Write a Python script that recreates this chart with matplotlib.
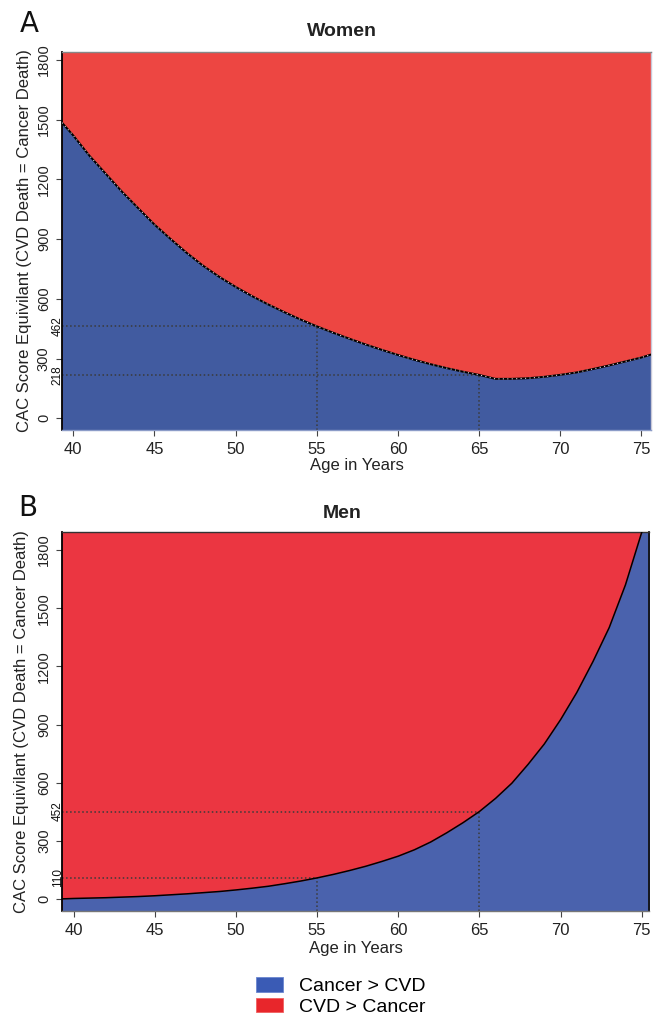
import numpy as np
import matplotlib
matplotlib.use("Agg")
import matplotlib.pyplot as plt
from matplotlib.patches import Patch

plt.rcParams['font.family'] = ['Liberation Sans', 'DejaVu Sans']

# CAC score at which CVD death risk equals cancer death risk
women_age = [39.3, 40, 41, 42, 43, 44, 45, 46, 47, 48, 49, 50, 51, 52, 53, 54, 55,
             56, 57, 58, 59, 60, 61, 62, 63, 64, 65, 66, 67, 68, 69, 70, 71, 72,
             73, 74, 75, 75.6]
women_cac = [1485, 1420, 1318, 1228, 1138, 1055, 973, 900, 830, 766, 710, 660, 614,
             572, 533, 496, 462, 430, 400, 371, 344, 318, 294, 272, 252, 234, 218,
             198, 198, 201, 208, 218, 230, 247, 265, 285, 305, 320]

men_age = [39.3, 40, 41, 42, 43, 44, 45, 46, 47, 48, 49, 50, 51, 52, 53, 54, 55,
           56, 57, 58, 59, 60, 61, 62, 63, 64, 65, 66, 67, 68, 69, 70, 71, 72,
           73, 74, 75, 75.5]
men_cac = [2, 4, 6, 8, 11, 14, 18, 23, 28, 34, 40, 48, 57, 67, 80, 94, 110, 128,
           148, 170, 195, 222, 255, 295, 343, 395, 452, 520, 598, 695, 800, 925,
           1065, 1225, 1400, 1620, 1890, 2030]

# marked ages and their equivalent scores
women_marks = [(55, 462), (65, 218)]
men_marks = [(55, 110), (65, 452)]

y_ticks = [0, 300, 600, 900, 1200, 1500, 1800]
x_ticks = [40, 45, 50, 55, 60, 65, 70, 75]

fig = plt.figure(figsize=(6.59, 10.17), dpi=100)
W, H = 659, 1017


def make_axes(l, t, r, b):
    return fig.add_axes([l / W, 1 - b / H, (r - l) / W, (b - t) / H])


axA = make_axes(62, 52, 651, 430)
axB = make_axes(62.3, 532.3, 649.3, 910.7)


def draw_panel(ax, age, cac, marks, red, blue, ylim, xlim, white_dots, ylab_x, lw):
    ax.set_xlim(*xlim)
    ax.set_ylim(*ylim)
    ax.set_facecolor(red)
    ax.fill_between(age, ylim[0] - 100, cac, color=blue, lw=0, zorder=1)
    ax.plot(age, cac, color='black', lw=lw, zorder=3)
    if white_dots:
        ax.plot(age, cac, color='white', lw=0.8, ls=(0, (1, 3)), alpha=0.85, zorder=4)

    for a, v in marks:
        ax.plot([xlim[0], a], [v, v], color='#3a3a3a', ls=':', lw=1.1, zorder=2)
        ax.plot([a, a], [ylim[0], v], color='#3a3a3a', ls=':', lw=1.1, zorder=2)
        ax.text(-0.008, v, str(v), transform=ax.get_yaxis_transform(),
                rotation=90, ha='center', va='center', fontsize=8.5, color='#111')

    ax.set_xticks(x_ticks)
    ax.set_yticks(y_ticks)
    ax.set_yticklabels([str(v) for v in y_ticks], rotation=90, va='center')
    ax.tick_params(axis='x', labelsize=12, length=4, width=0.8, pad=5,
                   color='#444', labelcolor='#222')
    ax.tick_params(axis='y', labelsize=10.5, length=4, width=0.8, pad=4,
                   color='#444', labelcolor='#222')

    ax.text(ylab_x, 0.5, 'CAC Score Equivilant (CVD Death = Cancer Death)',
            transform=ax.transAxes, rotation=90, ha='center', va='center',
            fontsize=12, color='#222')


draw_panel(axA, women_age, women_cac, women_marks, '#ED4642', '#415BA0',
           (-59, 1840), (39.3, 75.6), True, -0.063, 1.4)
draw_panel(axB, men_age, men_cac, men_marks, '#EB3641', '#4A62AD',
           (-59, 1891), (39.3, 75.47), False, -0.07, 1.1)

axA.text(0.5, -0.095, 'Age in Years', transform=axA.transAxes, ha='center',
         va='center', fontsize=12, color='#222')
axB.text(0.5, -0.1, 'Age in Years', transform=axB.transAxes, ha='center',
         va='center', fontsize=12, color='#222')

for name, sp in axA.spines.items():
    sp.set_linewidth(1.0)
    sp.set_color({'left': 'black', 'top': '#888888', 'right': '#c8c8d8',
                  'bottom': '#8c9cc8'}[name])
axA.spines['left'].set_linewidth(1.3)
for name, sp in axB.spines.items():
    sp.set_linewidth(1.0)
    sp.set_color({'left': 'black', 'top': '#333333', 'right': '#111111',
                  'bottom': '#777777'}[name])
axB.spines['left'].set_linewidth(1.3)
axB.spines['right'].set_linewidth(1.3)

fig.text(342 / W, 1 - 32 / H, 'Women', ha='center', va='center',
         fontsize=14, fontweight='bold', color='#222')
fig.text(342 / W, 1 - 514 / H, 'Men', ha='center', va='center',
         fontsize=14, fontweight='bold', color='#222')
fig.text(29 / W, 1 - 24 / H, 'A', ha='center', va='center', fontsize=20,
         family=['DejaVu Sans'], color='#111')
fig.text(28 / W, 1 - 508 / H, 'B', ha='center', va='center', fontsize=20,
         family=['DejaVu Sans'], color='#111')

handles = [Patch(facecolor='#3A5BB5', edgecolor='#6a86d0', lw=0.6, label='Cancer > CVD'),
           Patch(facecolor='#E8262B', edgecolor='#f06060', lw=0.6, label='CVD > Cancer')]
fig.legend(handles=handles, loc='upper left', bbox_to_anchor=(256 / W, 1 - 977 / H),
           frameon=False, fontsize=14, handlelength=1.4, handleheight=0.8,
           labelspacing=0.12, handletextpad=0.8, borderaxespad=0, borderpad=0)

fig.savefig('out.png', dpi=100)
